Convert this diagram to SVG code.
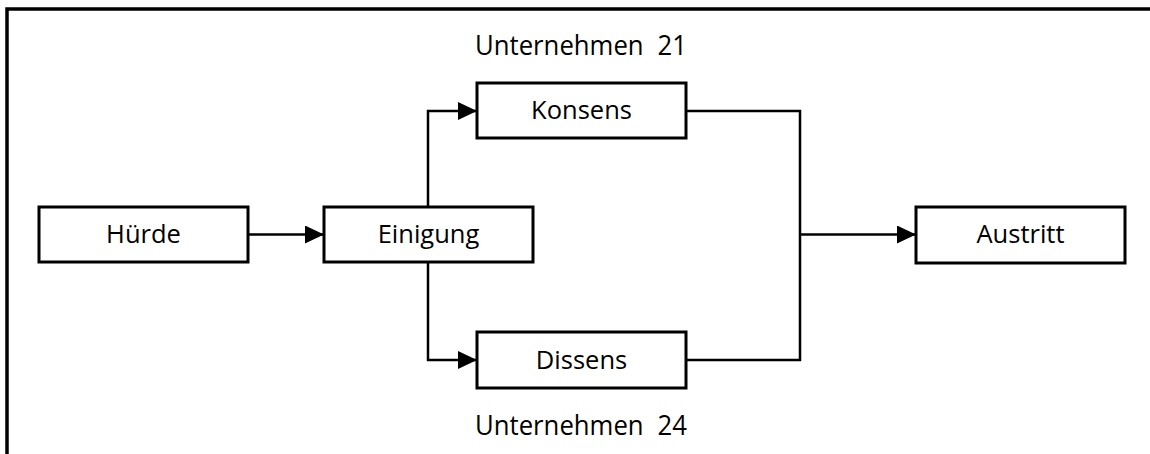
<svg xmlns="http://www.w3.org/2000/svg" width="1150" height="454" viewBox="0 0 1150 454">
  <style>
    .box { fill: #ffffff; stroke: #000000; stroke-width: 3; }
    .label { font-family: "Open Sans", "Liberation Sans", sans-serif; font-size: 25.5px; fill: #000000; text-anchor: middle; }
    .caption { font-family: "Open Sans", "Liberation Sans", sans-serif; font-size: 28px; word-spacing: 8px; fill: #000000; text-anchor: middle; }
    .edge { fill: none; stroke: #000000; stroke-width: 2.5; }
    .frame { fill: none; stroke: #000000; stroke-width: 3.5; }
  </style>
  <defs>
    <marker id="arrow" markerUnits="userSpaceOnUse" markerWidth="19" markerHeight="18" refX="19" refY="9" orient="auto">
      <path d="M0,0 L19,9 L0,18 Z" fill="#000000"/>
    </marker>
  </defs>

  <rect x="0" y="0" width="1150" height="454" fill="#ffffff"/>
  <path class="frame" d="M7,454 L7,9 L1150,9"/>

  <g id="connectors">
    <path class="edge" d="M248,234.5 L324,234.5" marker-end="url(#arrow)"/>
    <path class="edge" d="M428,207 L428,111 L477,111" marker-end="url(#arrow)"/>
    <path class="edge" d="M428,262 L428,360 L477,360" marker-end="url(#arrow)"/>
    <path class="edge" d="M686,111 L800,111 L800,360 L686,360"/>
    <path class="edge" d="M800,234.5 L916,234.5" marker-end="url(#arrow)"/>
  </g>

  <g id="huerde">
    <rect class="box" x="39" y="207" width="209" height="55"/>
    <text class="label" x="143.5" y="243">Hürde</text>
  </g>
  <g id="einigung">
    <rect class="box" x="324" y="207" width="209" height="55"/>
    <text class="label" x="428.5" y="243">Einigung</text>
  </g>
  <g id="konsens">
    <rect class="box" x="477" y="83" width="209" height="55"/>
    <text class="label" x="581.5" y="119">Konsens</text>
  </g>
  <g id="dissens">
    <rect class="box" x="477" y="332" width="209" height="56"/>
    <text class="label" x="581.5" y="368.5">Dissens</text>
  </g>
  <g id="austritt">
    <rect class="box" x="916" y="207" width="209" height="56"/>
    <text class="label" x="1020.5" y="243">Austritt</text>
  </g>

  <g id="captions">
    <text class="caption" x="581" y="55" textLength="212" lengthAdjust="spacingAndGlyphs">Unternehmen 21</text>
    <text class="caption" x="581" y="435" textLength="212" lengthAdjust="spacingAndGlyphs">Unternehmen 24</text>
  </g>
</svg>
